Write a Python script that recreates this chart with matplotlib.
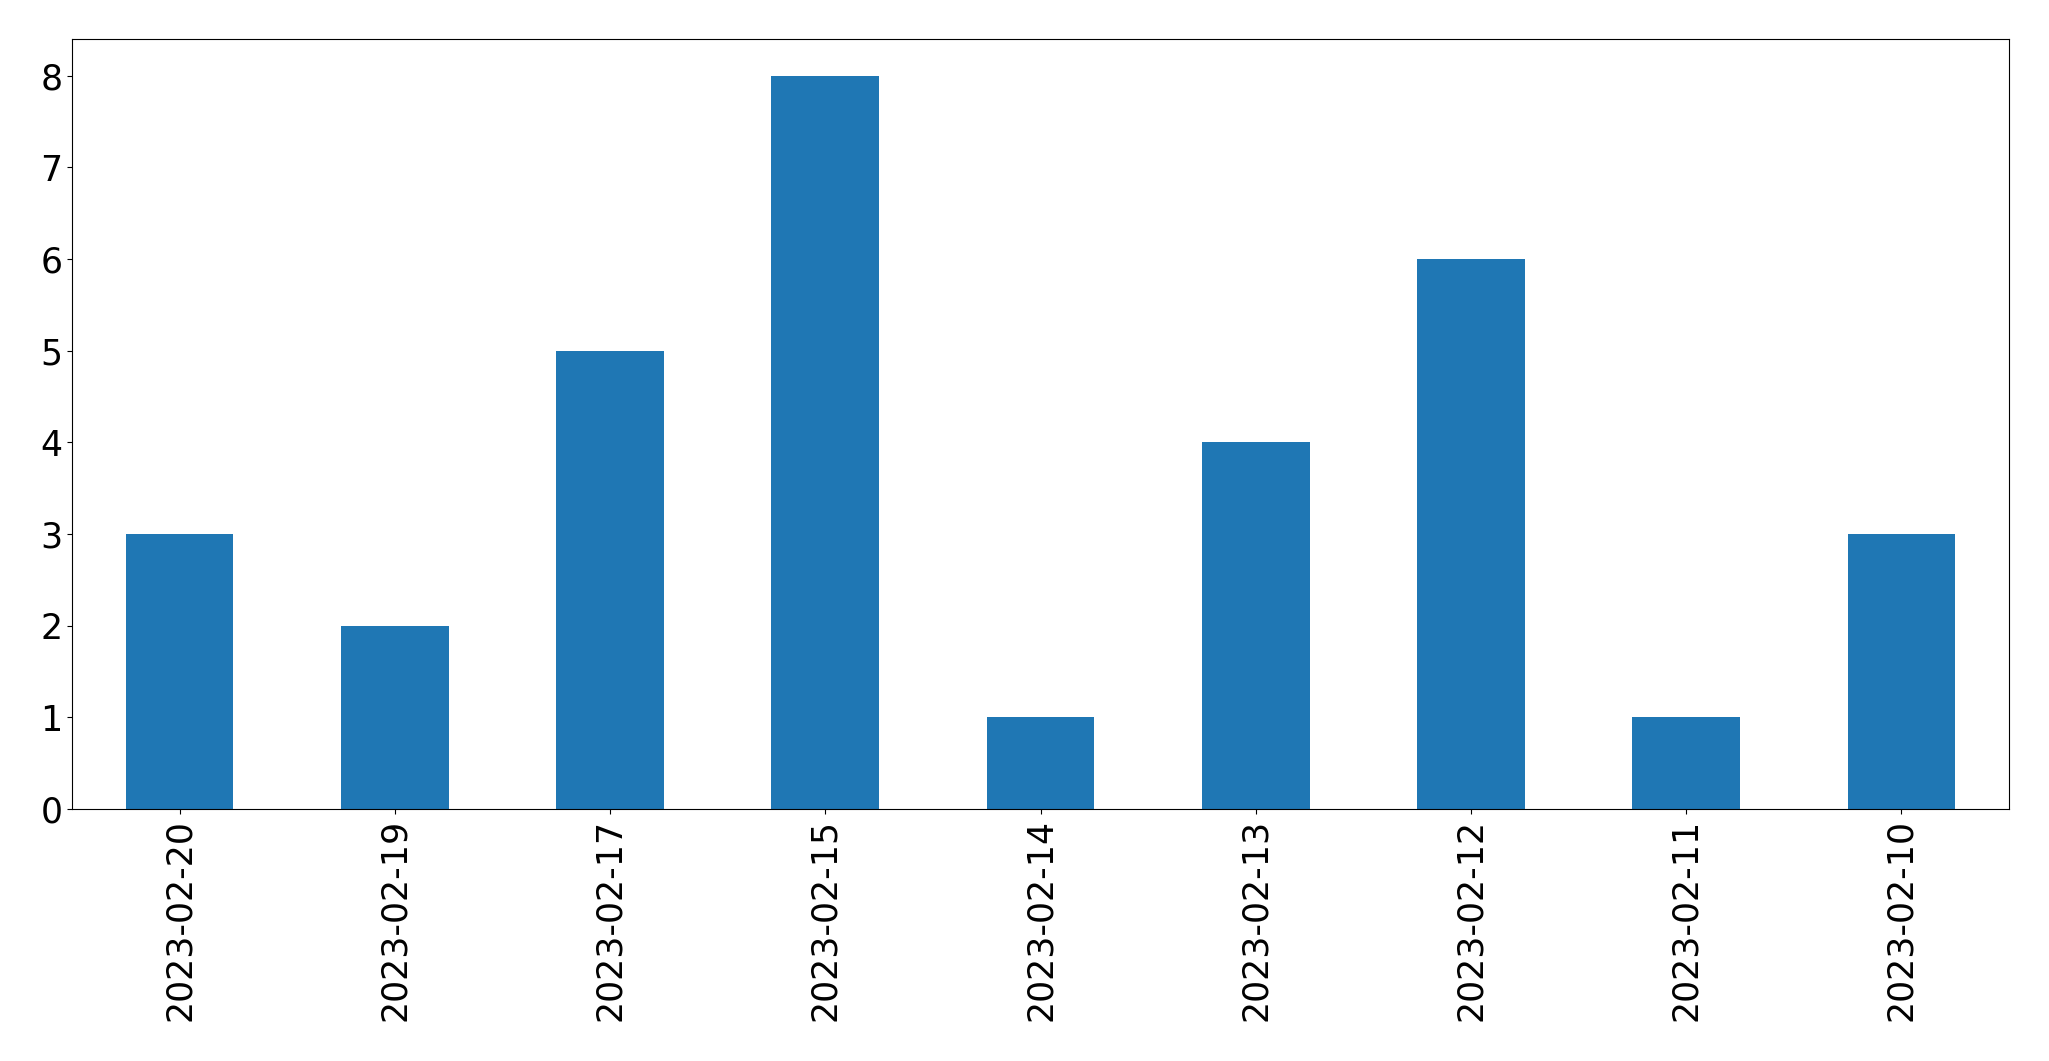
import matplotlib
matplotlib.use("Agg")
import matplotlib.pyplot as plt
import pandas as pd

dates = ["2023-02-20", "2023-02-19", "2023-02-17", "2023-02-15", "2023-02-14",
         "2023-02-13", "2023-02-12", "2023-02-11", "2023-02-10"]
counts = [3, 2, 5, 8, 1, 4, 6, 1, 3]


def main() -> None:
    series = pd.Series(counts, index=dates)
    fig = plt.figure(figsize=(20.49, 10.61), dpi=100)
    ax = fig.add_axes([72 / 2049, 1 - 809 / 1061, (2009 - 72) / 2049, (809 - 39) / 1061])
    series.plot.bar(ax=ax, color="#1f77b4", fontsize=25)
    ax.set_xlabel("")
    fig.savefig("out.png", dpi=100)


if __name__ == "__main__":
    main()
